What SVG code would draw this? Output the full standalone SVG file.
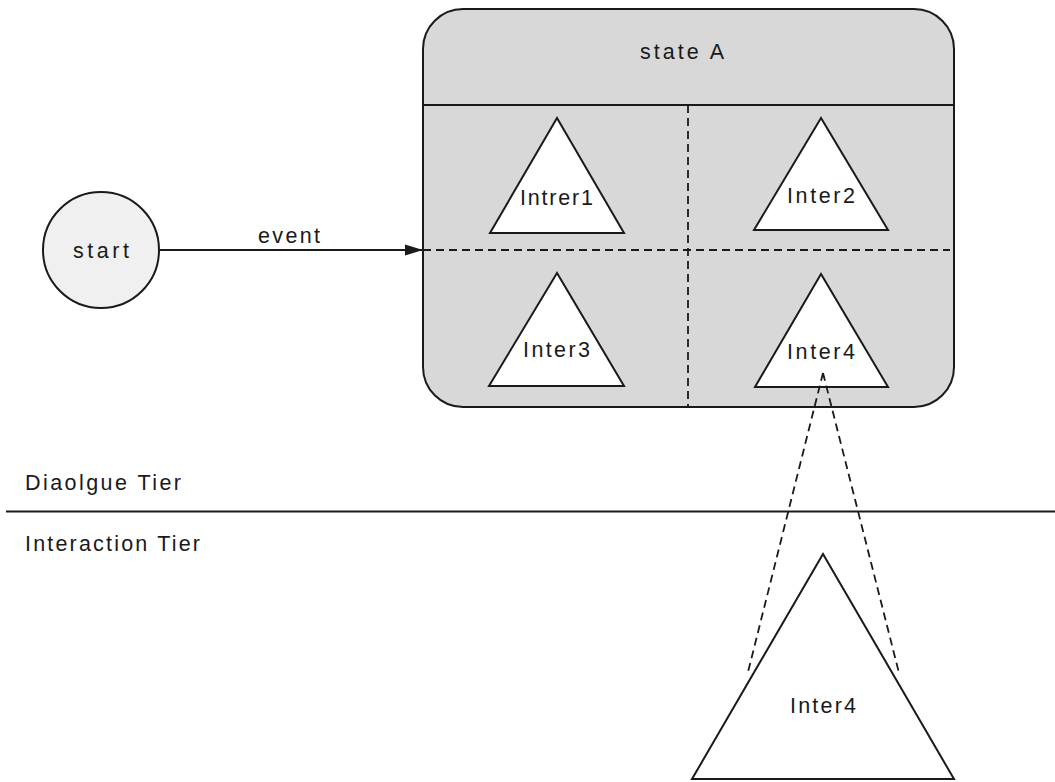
<svg xmlns="http://www.w3.org/2000/svg" width="1055" height="782" viewBox="0 0 1055 782">
  <style>
    .lbl { font-family: "Liberation Sans", Arial, sans-serif; font-size: 21.5px; fill: #1a1a1a; }
    .solid { fill: none; stroke: #1a1a1a; stroke-width: 2; }
    .dash { fill: none; stroke: #1a1a1a; stroke-width: 1.8; stroke-dasharray: 8 5; }
    .tri { fill: #ffffff; stroke: #1a1a1a; stroke-width: 2; stroke-linejoin: miter; }
  </style>
  <defs>
    <marker id="arrowhead" markerWidth="20" markerHeight="12" refX="18" refY="6" orient="auto" markerUnits="userSpaceOnUse">
      <path d="M0,0.5 L18,6 L0,11.5 Z" fill="#1a1a1a"/>
    </marker>
  </defs>

  <rect width="1055" height="782" fill="#ffffff"/>

  <!-- composite state with four regions -->
  <g id="stateA">
    <rect x="423" y="9" width="531" height="398" rx="40" ry="40" fill="#d8d8d8" stroke="#1a1a1a" stroke-width="2"/>
    <line class="solid" x1="423" y1="105" x2="954" y2="105"/>
    <line class="dash" x1="688" y1="105" x2="688" y2="407"/>
    <line class="dash" x1="423" y1="250" x2="950" y2="250"/>
    <text class="lbl" x="640" y="59" textLength="84" lengthAdjust="spacing">state A</text>
  </g>

  <g id="intrer1">
    <polygon class="tri" points="557,118 490,233 624,233"/>
    <text class="lbl" x="520" y="205" textLength="73" lengthAdjust="spacing">Intrer1</text>
  </g>
  <g id="inter2">
    <polygon class="tri" points="821,118 754,230 888,230"/>
    <text class="lbl" x="787" y="203" textLength="68" lengthAdjust="spacing">Inter2</text>
  </g>
  <g id="inter3">
    <polygon class="tri" points="557,273 489,386 624,386"/>
    <text class="lbl" x="523" y="357" textLength="67" lengthAdjust="spacing">Inter3</text>
  </g>
  <g id="inter4">
    <polygon class="tri" points="821,274 755,387 888,387"/>
    <text class="lbl" x="787" y="359" textLength="68" lengthAdjust="spacing">Inter4</text>
  </g>

  <!-- initial node -->
  <g id="start">
    <circle cx="101" cy="250" r="58" fill="#f0f0f0" stroke="#1a1a1a" stroke-width="2"/>
    <text class="lbl" x="73" y="258" textLength="56" lengthAdjust="spacing">start</text>
  </g>

  <!-- tier separator -->
  <g id="tiers">
    <line class="solid" x1="6" y1="511.5" x2="1055" y2="511.5"/>
    <text class="lbl" x="25" y="490" textLength="156" lengthAdjust="spacing">Diaolgue Tier</text>
    <text class="lbl" x="25" y="551" textLength="175" lengthAdjust="spacing">Interaction Tier</text>
  </g>

  <!-- expanded interaction -->
  <g id="inter4-detail">
    <polygon class="tri" points="823,554 692,779 954,779"/>
    <text class="lbl" x="790" y="713" textLength="66" lengthAdjust="spacing">Inter4</text>
  </g>

  <g id="connectors">
    <line class="solid" x1="159" y1="250" x2="423" y2="250" marker-end="url(#arrowhead)"/>
    <text class="lbl" x="258" y="243" textLength="62" lengthAdjust="spacing">event</text>
    <line class="dash" x1="823" y1="373" x2="748" y2="672"/>
    <line class="dash" x1="823" y1="373" x2="899" y2="673"/>
  </g>
</svg>
